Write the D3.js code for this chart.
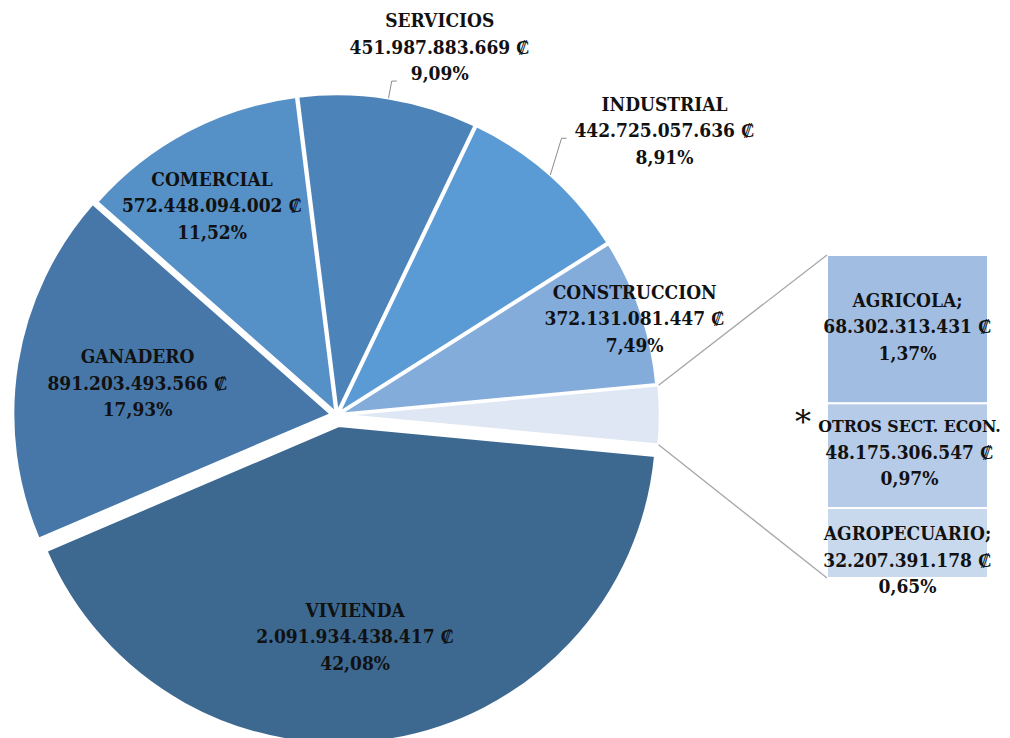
<!DOCTYPE html>
<html><head><meta charset="utf-8">
<script src="https://cdn.jsdelivr.net/npm/d3@7"></script>
<style>html,body{margin:0;padding:0;background:#fff;} svg{display:block;}</style>
</head><body>
<svg id="chart" width="1010" height="738"></svg>
<script>
// ---- data ----
const pieCategories = ["VIVIENDA","GANADERO","COMERCIAL","SERVICIOS","INDUSTRIAL","CONSTRUCCION"];
const pieValues = [2091934438417, 891203493566, 572448094002, 451987883669, 442725057636, 372131081447];
const barCategories = ["AGRICOLA;","OTROS SECT. ECON.","AGROPECUARIO;"];
const barValues = [68302313431, 48175306547, 32207391178];

// ---- style / layout ----
const pieColors = ["#3d6991","#4677a8","#5590c7","#4c83b8","#5b9bd5","#84acdb"];
const otherColor = "#dee7f3";
const barColors = ["#a2bde2","#b5cbe8","#c8d9ee"];
const FONT = "'DejaVu Serif Condensed','DejaVu Serif',serif";
const FS = 19, LH = 26.5;
const cx = 337, cy = 415, R = 318;
const explode = {"__other":5, VIVIENDA:11, GANADERO:6, COMERCIAL:3, SERVICIOS:3, INDUSTRIAL:3, CONSTRUCCION:3};
// label anchor (polar: degrees clockwise from 12 o'clock, radius from pie centre)
const labelPolar = {VIVIENDA:[175.3,222], GANADERO:[279.1,202], COMERCIAL:[329.2,244],
  SERVICIOS:[15.6,382], INDUSTRIAL:[49,434], CONSTRUCCION:[72,313]};
const leaderElbow = {SERVICIOS:[-48,34,5], INDUSTRIAL:[-103,8,5]};
const barX0 = 827, barX1 = 988, barY0 = 255, barY1 = 578;
const barLabelDy = [-3,-4,17];
const barLabelDx = [0,2,0];

const svg = d3.select("#chart");
const locale = d3.formatLocale({decimal:",", thousands:".", grouping:[3], currency:["",""]});
const fmtInt = locale.format(",d");
const fmtFix = locale.format(".2f");
const total = d3.sum(pieValues) + d3.sum(barValues);
const fmtVal = v => fmtInt(v) + " \u20a1";
const fmtPct = v => fmtFix(v/total*100) + "%";

const otherSum = d3.sum(barValues);
const slices = [{name:"__other", value:otherSum, color:otherColor}]
  .concat(pieCategories.map((c,i)=>({name:c, value:pieValues[i], color:pieColors[i]})));
const otherAngle = otherSum/total*2*Math.PI;
const a0 = Math.PI/2 - otherAngle/2;
const pie = d3.pie().sort(null).value(d=>d.value).startAngle(a0).endAngle(a0+2*Math.PI);
const arcs = pie(slices);
const arc = d3.arc().innerRadius(0).outerRadius(R);
function off(a){const m=(a.startAngle+a.endAngle)/2, e=explode[a.data.name]; return [cx+e*Math.sin(m), cy-e*Math.cos(m)];}

const g = svg.append("g");
g.selectAll("path.slice").data(arcs).join("path")
  .attr("class","slice")
  .attr("transform", d=>{const o=off(d); return `translate(${o[0]},${o[1]})`;})
  .attr("d", arc)
  .attr("fill", d=>d.data.color)
  .attr("stroke","#fff").attr("stroke-width",2.5).attr("stroke-linejoin","round");

// bar of pie
const y = d3.scaleLinear().domain([0, otherSum]).range([barY0, barY1]);
const cum = [0]; barValues.forEach((v,i)=>cum.push(cum[i]+v));
svg.selectAll("rect.bar").data(barValues).join("rect")
  .attr("class","bar")
  .attr("x", barX0).attr("width", barX1-barX0)
  .attr("y", (d,i)=>y(cum[i])).attr("height", (d,i)=>y(cum[i+1])-y(cum[i]))
  .attr("fill",(d,i)=>barColors[i]).attr("stroke","#fff").attr("stroke-width",2);

// connector lines
const oa = arcs[0], oo = off(oa);
const pTop = [oo[0]+R*Math.sin(oa.startAngle), oo[1]-R*Math.cos(oa.startAngle)];
const pBot = [oo[0]+R*Math.sin(oa.endAngle), oo[1]-R*Math.cos(oa.endAngle)];
svg.append("line").attr("x1",pTop[0]).attr("y1",pTop[1]).attr("x2",barX0).attr("y2",y(0))
  .attr("stroke","#a6a6a6").attr("stroke-width",1.3);
svg.append("line").attr("x1",pBot[0]).attr("y1",pBot[1]).attr("x2",barX0).attr("y2",y(otherSum))
  .attr("stroke","#a6a6a6").attr("stroke-width",1.3);

function block(x, yc, lines, fs){
  const t = svg.append("text").attr("font-family",FONT).attr("font-size",fs||FS).attr("font-weight","bold")
    .attr("fill","#111").attr("text-anchor","middle");
  lines.forEach((s,i)=>t.append("tspan").attr("x",x).attr("y",yc+(i-1)*LH).attr("dy","0.36em").text(s));
  return t;
}

// pie labels + leaders
arcs.slice(1).forEach(a=>{
  const n = a.data.name, lp = labelPolar[n];
  const ang = lp[0]*Math.PI/180;
  const lx = cx + lp[1]*Math.sin(ang), ly = cy - lp[1]*Math.cos(ang);
  if (leaderElbow[n]) {
    const o = off(a), m = (a.startAngle+a.endAngle)/2;
    const px = o[0]+R*Math.sin(m), py = o[1]-R*Math.cos(m);
    const ex = lx+leaderElbow[n][0], ey = ly+leaderElbow[n][1];
    svg.append("path").attr("d",`M${px},${py}L${ex},${ey}L${ex+leaderElbow[n][2]},${ey}`)
      .attr("fill","none").attr("stroke","#8c8c8c").attr("stroke-width",1);
  }
  block(lx, ly, [n, fmtVal(a.data.value), fmtPct(a.data.value)]);
});

// bar labels
barCategories.forEach((c,i)=>{
  const yc = (y(cum[i])+y(cum[i+1]))/2 + barLabelDy[i];
  const x = (barX0+barX1)/2 + barLabelDx[i];
  const t = block(x, yc, [c, fmtVal(barValues[i]), fmtPct(barValues[i])]);
  if (i===1) t.select("tspan").attr("font-size",17.5); // long first line kept inside the picture
});
// asterisk
svg.append("text").attr("x",803).attr("y", (y(cum[1])+y(cum[2]))/2 - 23)
  .attr("text-anchor","middle").attr("font-family","'DejaVu Serif',serif").attr("font-size",32)
  .attr("fill","#111").text("*");
</script>
</body></html>
